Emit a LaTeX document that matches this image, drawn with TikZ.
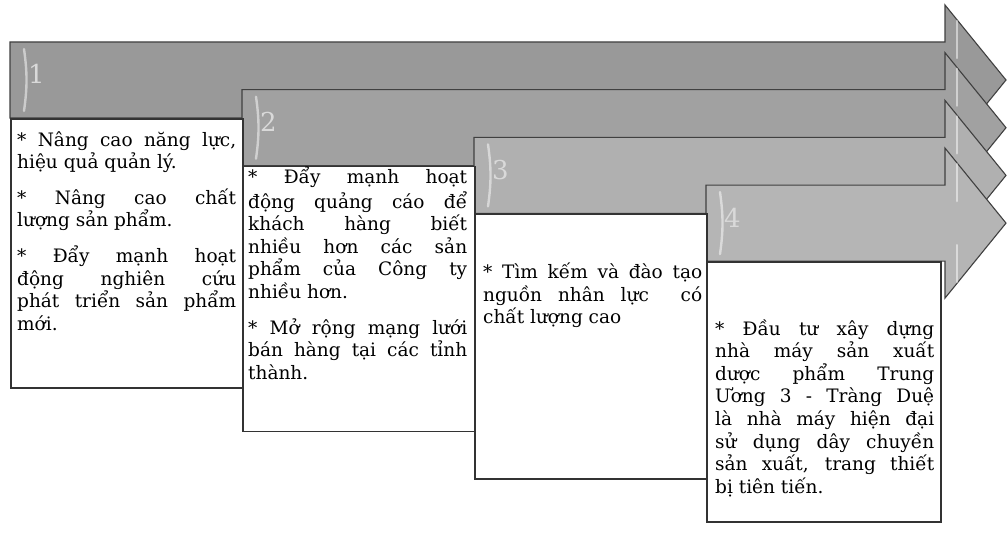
\documentclass[tikz,border=0pt]{standalone}
\usepackage{fontspec}
\setmainfont{DejaVu Serif}
\usetikzlibrary{positioning}

\begin{document}
\begin{tikzpicture}[x=1pt,y=-1pt,
  stepbox/.style={draw=black!80, line width=1.6pt, fill=white, anchor=north west,
    minimum width=232pt, inner sep=0pt},
  boxtext/.style={anchor=north west, inner sep=0pt, text width=219pt, align=justify,
    font=\fontsize{18.5}{22.6}\selectfont, text=black,
    execute at begin node={\setlength{\parskip}{13pt}\tolerance=10000\hyphenpenalty=10000\strut}},
  steplabel/.style={anchor=base west, inner sep=0pt, text=black!15,
    font=\fontsize{26}{26}\selectfont},
  shine/.style={white, opacity=.5, line width=2.4pt, line cap=round}]
\useasboundingbox (0,0) rectangle (1007,534);

\foreach \i/\c/\n in {0/40/1,1/37/2,2/31/3,3/29/4}{
  \filldraw[fill=black!\c, draw=black!75, line width=1.1pt]
    (10+232*\i, 42+47.7*\i) -- (945, 42+47.7*\i) -- (945, 5+47.7*\i)
    -- (1006, 80+47.7*\i) -- (945, 155+47.7*\i) -- (945, 118+47.7*\i)
    -- (10+232*\i, 118+47.7*\i) -- cycle;
  \draw[shine] (24+232*\i, 49+47.7*\i) to[bend left=8] (24+232*\i, 111+47.7*\i);
  \draw[shine] (957, 21+47.7*\i) -- (957, 58+47.7*\i);
  \draw[shine] (957, 102+47.7*\i) -- (957, 139+47.7*\i);
  \node[steplabel] (n\n) at (28+232*\i, 84+47.7*\i) {\n};
}

\node[stepbox, minimum height=269pt] (b1) at (10,118) {};
\node[stepbox, minimum height=265pt] (b2) at (242,165.7) {};
\node[stepbox, minimum height=265pt] (b3) at (474,213.4) {};
\node[stepbox, minimum height=260pt, minimum width=234pt] (b4) at (706,261.1) {};

\node[boxtext] (t1) at ([xshift=7pt,yshift=-12pt]b1.north west)
  {* Nâng cao năng lực,\linebreak hiệu quả quản lý.\par
   * Nâng cao chất\linebreak lượng sản phẩm.\par
   * Đẩy mạnh hoạt\linebreak động nghiên cứu\linebreak phát triển sản phẩm\linebreak mới.};
\node[boxtext] (t2) at ([xshift=6pt,yshift=-1pt]b2.north west)
  {* Đẩy mạnh hoạt\linebreak động quảng cáo để\linebreak khách hàng biết\linebreak
   nhiều hơn các sản\linebreak phẩm của Công ty\linebreak nhiều hơn.\par
   * Mở rộng mạng lưới\linebreak bán hàng tại các tỉnh\linebreak thành.};
\node[boxtext] (t3) at ([xshift=9pt,yshift=-49pt]b3.north west)
  {* Tìm kếm và đào tạo\linebreak nguồn nhân lực~ có\linebreak chất lượng cao};
\node[boxtext] (t4) at ([xshift=9pt,yshift=-58pt]b4.north west)
  {* Đầu tư xây dựng\linebreak nhà máy sản xuất\linebreak dược phẩm Trung\linebreak
   Ương 3 - Tràng Duệ\linebreak là nhà máy hiện đại\linebreak sử dụng dây chuyền\linebreak
   sản xuất, trang thiết\linebreak bị tiên tiến.};
\end{tikzpicture}
\end{document}
